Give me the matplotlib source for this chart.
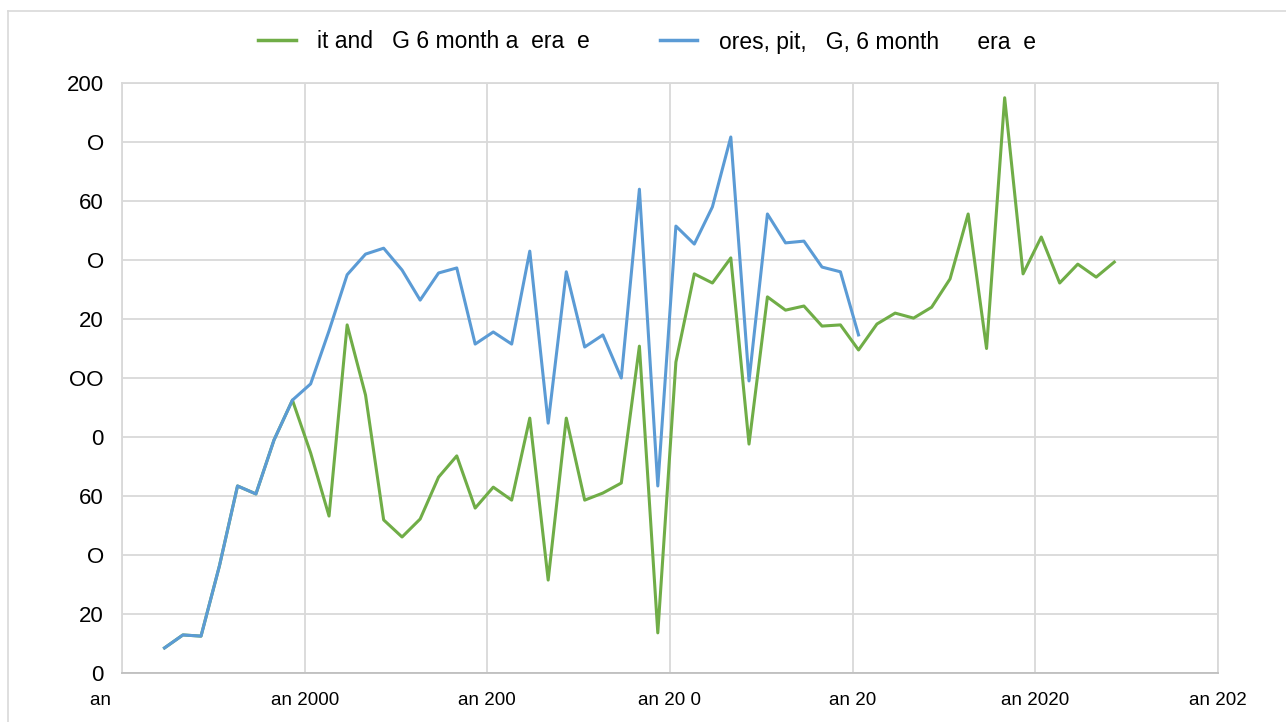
import numpy as np
import pandas as pd
import matplotlib
matplotlib.use('Agg')
import matplotlib.pyplot as plt
from matplotlib.lines import Line2D

plt.rcParams['font.family'] = ['Liberation Sans', 'DejaVu Sans']

# Dados (medias de 6 meses)
green_vals = [8.5, 12.9, 12.5, 36.3, 63.4, 60.7, 79.0, 92.5,
              74.6, 53.2, 118.0, 94.2, 51.9, 46.1, 52.2, 66.4, 73.6, 55.9,
              63.0, 58.6, 86.4, 31.5, 86.4, 58.6, 61.0, 64.4, 110.8, 13.6,
              105.4, 135.3, 132.2, 140.7, 77.6, 127.5, 123.0, 124.4, 117.6,
              118.0, 109.5, 118.3, 122.0, 120.3, 124.0, 133.6, 155.6, 110.0,
              195.0, 135.3, 147.8, 132.2, 138.6, 134.2, 139.3]
blue_vals = [8.5, 12.9, 12.5, 36.3, 63.4, 60.7, 79.0, 92.5,
             98.0, 116.0, 135.0, 142.0, 144.0, 136.6, 126.4, 135.6, 137.3,
             111.5, 115.6, 111.5, 143.0, 84.7, 136.0, 110.5, 114.6, 100.0,
             164.0, 63.4, 151.5, 145.4, 158.0, 181.7, 99.0, 155.6, 145.8,
             146.4, 137.6, 136.0, 114.6]

green_dates = pd.date_range('1996-03-01', periods=len(green_vals), freq='6MS')
blue_dates = green_dates[:len(blue_vals)]

legend_labels = ['it and   G 6 month a  era  e',
                 'ores, pit,   G, 6 month      era  e']
y_ticks = [0, 20, 40, 60, 80, 100, 120, 140, 160, 180, 200]
y_labels = ['0', '20', 'O', '60', '0', 'OO', '20', 'O', '60', 'O', '200']
x_years = [1995, 2000, 2005, 2010, 2015, 2020, 2025]
x_labels = ['an        ', 'an 2000', 'an 200', 'an 20 0', 'an 20', 'an 2020', 'an 202']

green = '#70AD47'
blue = '#5B9BD5'
grid_c = '#D9D9D9'

fig = plt.figure(figsize=(12.86, 7.22), dpi=100)
ax = fig.add_axes([122 / 1286, 1 - 673 / 722, (1218 - 122) / 1286, (673 - 83) / 722])

ax.plot(green_dates, green_vals, color=green, lw=2.2)
ax.plot(blue_dates, blue_vals, color=blue, lw=2.2)

ax.set_xlim(pd.Timestamp('1995-01-01'), pd.Timestamp('2025-01-01'))
ax.set_ylim(0, 200)
ax.set_xticks([pd.Timestamp(f'{y}-01-01') for y in x_years])
ax.set_xticklabels(x_labels, fontsize=13.5)
ax.set_yticks(y_ticks)
ax.set_yticklabels(y_labels, fontsize=16)
ax.tick_params(axis='both', length=0, colors='black')
ax.tick_params(axis='y', pad=13)
ax.tick_params(axis='x', pad=14)

ax.grid(True, color=grid_c, lw=1.3)
ax.set_axisbelow(True)
for s in ax.spines.values():
    s.set_color(grid_c)
    s.set_linewidth(1.3)
ax.spines['bottom'].set_color('#BFBFBF')

# Legenda
handles = [Line2D([], [], color=green, lw=2.5), Line2D([], [], color=blue, lw=2.5)]
fig.legend(handles, legend_labels, loc='center', bbox_to_anchor=(0.503, 1 - 42 / 722),
           ncol=2, frameon=False, handlelength=1.65, columnspacing=3.05,
           handletextpad=0.92, prop={'size': 16.5})

# Borda da area do grafico
fig.add_artist(Line2D([8 / 1286, 8 / 1286], [0, 1 - 11 / 722], transform=fig.transFigure,
                      color=grid_c, lw=1.2))
fig.add_artist(Line2D([8 / 1286, 1], [1 - 11 / 722, 1 - 11 / 722], transform=fig.transFigure,
                      color=grid_c, lw=1.2))

fig.savefig('out.png', dpi=100)
